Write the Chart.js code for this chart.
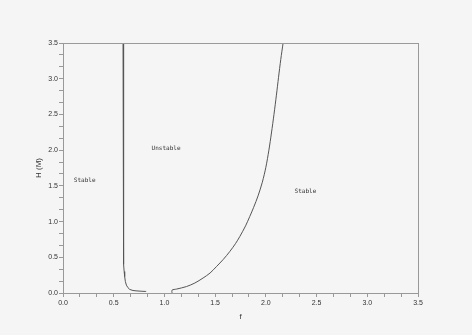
<!DOCTYPE html>
<html>
<head>
<meta charset="utf-8">
<script src="https://cdn.jsdelivr.net/npm/chart.js@4"></script>
<style>
  html, body { margin: 0; padding: 0; background: #f5f5f5; }
  #wrap { width: 472px; height: 335px; }
</style>
</head>
<body>
<div id="wrap"><canvas id="chart"></canvas></div>
<script>
// left boundary (f, H)
const leftF = [0.592, 0.592, 0.600, 0.600, 0.603, 0.608, 0.615, 0.625, 0.640, 0.658, 0.690, 0.720, 0.770, 0.810, 0.820];
const leftH = [3.50, 1.16, 1.14, 0.40, 0.30, 0.23, 0.16, 0.11, 0.075, 0.05, 0.035, 0.030, 0.025, 0.022, 0.022];

// right boundary (f, H)
const rightF = [1.075, 1.075, 1.120, 1.217, 1.300, 1.381, 1.450, 1.513, 1.580, 1.644, 1.700, 1.743, 1.800, 1.841, 1.880, 1.923, 1.965, 2.000, 2.030, 2.055, 2.080, 2.104, 2.125, 2.147, 2.170];
const rightH = [0.00, 0.04, 0.055, 0.09, 0.14, 0.21, 0.28, 0.37, 0.47, 0.58, 0.69, 0.79, 0.94, 1.07, 1.20, 1.36, 1.55, 1.76, 2.00, 2.24, 2.50, 2.77, 3.02, 3.27, 3.50];

// region labels
const regionText = ['Stable', 'Unstable', 'Stable'];
const regionF = [0.214, 1.016, 2.39];
const regionH = [1.58, 2.02, 1.42];

const axisMin = 0, axisMax = 3.5, majorStep = 0.5, minorPerMajor = 3;

const toPoints = (fs, hs) => fs.map((f, i) => ({ x: f, y: hs[i] }));

const tickLabel = v => {
    const k = v / majorStep;
    return Math.abs(k - Math.round(k)) < 1e-6 ? (Math.round(k) * majorStep).toFixed(1) : '';
};

const frameAndLabels = {
    id: 'frameAndLabels',
    beforeDraw(chart) {
        const ctx = chart.ctx;
        ctx.save();
        ctx.fillStyle = '#f5f5f5';
        ctx.fillRect(0, 0, chart.width, chart.height);
        ctx.restore();
    },
    afterDraw(chart) {
        const { ctx, chartArea: a, scales } = chart;
        ctx.save();
        ctx.strokeStyle = '#999';
        ctx.lineWidth = 1;
        ctx.strokeRect(Math.round(a.left) + 0.5, Math.round(a.top) + 0.5, Math.round(a.right - a.left), Math.round(a.bottom - a.top));
        ctx.fillStyle = '#333';
        ctx.font = '6px "DejaVu Sans Mono"';
        ctx.textAlign = 'center';
        ctx.textBaseline = 'middle';
        regionText.forEach((t, i) => {
            ctx.fillText(t, scales.x.getPixelForValue(regionF[i]), scales.y.getPixelForValue(regionH[i]));
        });
        ctx.restore();
    }
};

const tickFont = { family: 'Liberation Sans', size: 7 };
const gridOpts = { drawOnChartArea: false, drawTicks: true, tickLength: 4, color: '#999' };

new Chart(document.getElementById('chart'), {
    type: 'scatter',
    data: {
        datasets: [
            { data: toPoints(leftF, leftH), showLine: true, borderColor: '#555', borderWidth: 1, pointRadius: 0, tension: 0 },
            { data: toPoints(rightF, rightH), showLine: true, borderColor: '#555', borderWidth: 1, pointRadius: 0, tension: 0.3 }
        ]
    },
    options: {
        responsive: true,
        maintainAspectRatio: false,
        animation: false,
        layout: { padding: { left: 0, top: 43, right: 54, bottom: 0 } },
        plugins: { legend: { display: false }, tooltip: { enabled: false } },
        scales: {
            x: {
                type: 'linear', min: axisMin, max: axisMax,
                afterFit: s => { s.height = 42; },
                grid: gridOpts,
                border: { color: '#999' },
                ticks: { stepSize: majorStep / minorPerMajor, autoSkip: false, maxRotation: 0, padding: 2, color: '#333', font: tickFont, callback: tickLabel },
                title: { display: true, text: 'f', color: '#333', font: { family: 'Liberation Sans', size: 8 }, padding: { top: 0, bottom: 13 } }
            },
            y: {
                type: 'linear', min: axisMin, max: axisMax,
                afterFit: s => { s.width = 63; },
                grid: gridOpts,
                border: { color: '#999' },
                ticks: { stepSize: majorStep / minorPerMajor, autoSkip: false, padding: 1, color: '#333', font: tickFont, callback: tickLabel },
                title: { display: true, text: 'H (M)', color: '#333', font: { family: 'Liberation Sans', size: 8 }, padding: { top: 34, bottom: 0 } }
            }
        }
    },
    plugins: [frameAndLabels]
});
</script>
</body>
</html>
